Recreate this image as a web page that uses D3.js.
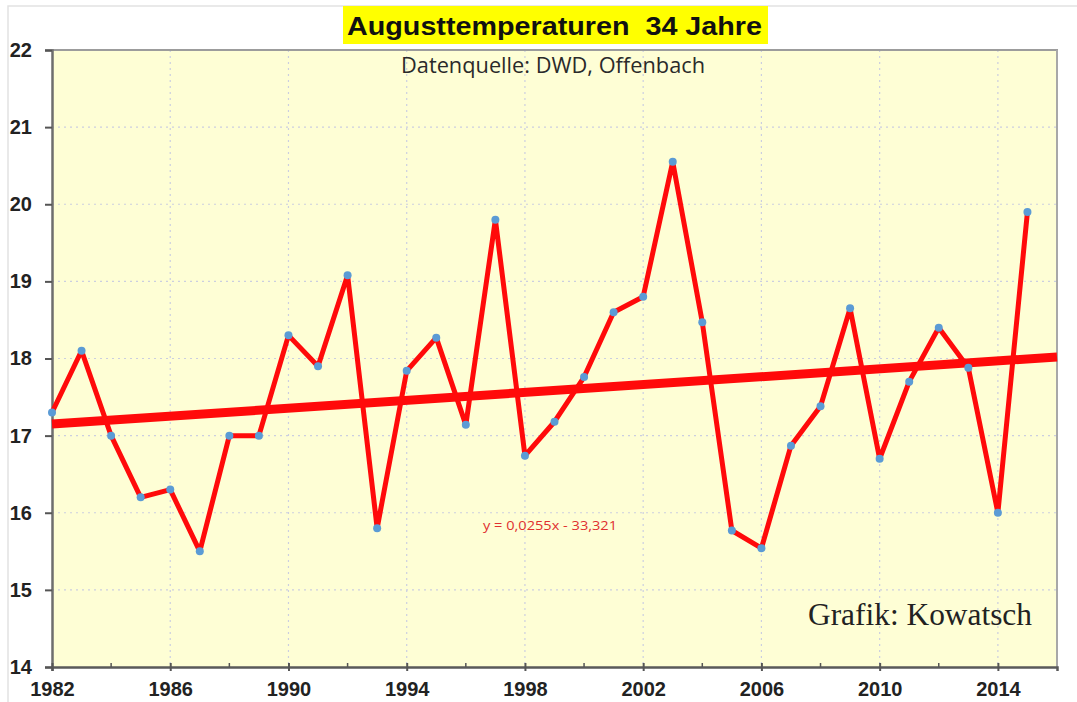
<!DOCTYPE html>
<html>
<head>
<meta charset="utf-8">
<script src="https://cdn.jsdelivr.net/npm/d3@7"></script>
<style>
  html, body { margin: 0; padding: 0; background: #ffffff; }
  svg { display: block; }
</style>
</head>
<body>
<svg id="chart" width="1077" height="702"></svg>
<script>
// ---- data ----
const years = [1982,1983,1984,1985,1986,1987,1988,1989,1990,1991,1992,1993,1994,1995,1996,1997,1998,1999,2000,2001,2002,2003,2004,2005,2006,2007,2008,2009,2010,2011,2012,2013,2014,2015];
const temps = [17.3,18.1,17.0,16.2,16.3,15.5,17.0,17.0,18.3,17.9,19.08,15.8,17.84,18.27,17.14,19.8,16.74,17.18,17.76,18.6,18.8,20.55,18.47,15.77,15.54,16.87,17.38,18.65,16.7,17.7,18.4,17.88,16.0,19.9];
const trendYears = [1982, 2016];
const trendValues = [17.15, 18.02];
const xTickValues = [1982,1986,1990,1994,1998,2002,2006,2010,2014];
const xMinorTicks = [1984,1988,1992,1996,2000,2004,2008,2012];
const yTickValues = [14,15,16,17,18,19,20,21,22];
const titleText = "Augusttemperaturen  34 Jahre";
const subtitleText = "Datenquelle: DWD, Offenbach";
const equationText = "y = 0,0255x - 33,321";
const creditText = "Grafik: Kowatsch";

// ---- layout ----
const svg = d3.select("#chart");
const L = 52, R = 1057, T = 50, B = 667;
const x = d3.scaleLinear().domain([1982, 2016]).range([L, R]);
const y = d3.scaleLinear().domain([14, 22]).range([B, T]);

// faint outer frame
svg.append("rect").attr("x", 8).attr("y", 6).attr("width", 1080).attr("height", 720)
  .attr("fill", "none").attr("stroke", "#e2e2e2").attr("stroke-width", 1.5);

// plot background
svg.append("rect").attr("x", L).attr("y", T).attr("width", R - L).attr("height", B - T)
  .attr("fill", "#fefed5");

// gridlines
const grid = svg.append("g");
grid.selectAll("line.h").data(yTickValues.slice(1, -1)).join("line")
  .attr("x1", L).attr("x2", R).attr("y1", d => y(d)).attr("y2", d => y(d))
  .attr("stroke", "#cbcee0").attr("stroke-width", 1.2).attr("stroke-dasharray", "2,4");
grid.selectAll("line.v").data(xTickValues.slice(1)).join("line")
  .attr("x1", d => x(d)).attr("x2", d => x(d)).attr("y1", T).attr("y2", B)
  .attr("stroke", "#cbcee0").attr("stroke-width", 1.2).attr("stroke-dasharray", "2,4");

// plot borders (top/right)
svg.append("line").attr("x1", L).attr("x2", R + 1).attr("y1", T).attr("y2", T)
  .attr("stroke", "#9c9c9c").attr("stroke-width", 2);
svg.append("line").attr("x1", R).attr("x2", R).attr("y1", T).attr("y2", B)
  .attr("stroke", "#a8a8a8").attr("stroke-width", 2);

// axes
const yAxis = d3.axisLeft(y).tickValues(yTickValues).tickSize(7).tickPadding(13).tickFormat(d3.format("d"));
const gy = svg.append("g").attr("transform", `translate(${L},0)`).call(yAxis);
gy.select(".domain").attr("stroke", "#6e6e6e").attr("stroke-width", 2.5);
gy.selectAll(".tick line").attr("stroke", "#555").attr("stroke-width", 2);
gy.selectAll(".tick text").attr("font-family", "'Liberation Sans', Arial, sans-serif")
  .attr("font-size", 20).attr("font-weight", "bold").attr("fill", "#222");

const xAxis = d3.axisBottom(x).tickValues(xTickValues).tickSize(4).tickPadding(11).tickFormat(d3.format("d"));
const gx = svg.append("g").attr("transform", `translate(0,${B})`).call(xAxis);
gx.select(".domain").attr("stroke", "#5a5a5a").attr("stroke-width", 2.5);
gx.selectAll(".tick line").attr("stroke", "#555").attr("stroke-width", 2).attr("y1", -4);
gx.selectAll(".tick text").attr("font-family", "'Liberation Sans', Arial, sans-serif")
  .attr("font-size", 20).attr("font-weight", "bold").attr("fill", "#222");
gx.selectAll("line.minor").data(xMinorTicks).join("line")
  .attr("class", "minor").attr("x1", d => x(d)).attr("x2", d => x(d)).attr("y1", -4).attr("y2", 0)
  .attr("stroke", "#555").attr("stroke-width", 1.5);

// data line
const pts = years.map((yr, i) => [yr, temps[i]]);
const lineGen = d3.line().x(d => x(d[0])).y(d => y(d[1]));
svg.append("path").datum(pts).attr("d", lineGen)
  .attr("fill", "none").attr("stroke", "#ff0a0a").attr("stroke-width", 5).attr("stroke-linejoin", "round");

// trend line
const trendPts = trendYears.map((yr, i) => [yr, trendValues[i]]);
svg.append("path").datum(trendPts).attr("d", lineGen)
  .attr("fill", "none").attr("stroke", "#ff0a0a").attr("stroke-width", 9);

// markers
svg.selectAll("circle.pt").data(pts).join("circle").attr("class", "pt")
  .attr("cx", d => x(d[0])).attr("cy", d => y(d[1])).attr("r", 4)
  .attr("fill", "#5b9bd5");

// title box
const titleG = svg.append("g");
titleG.append("rect").attr("x", 343).attr("y", 6).attr("width", 425).attr("height", 38).attr("fill", "#ffff00");
titleG.append("text").attr("x", 347).attr("y", 35).text(titleText)
  .attr("font-family", "'Liberation Sans', Arial, sans-serif").attr("font-weight", "bold")
  .attr("font-size", 25).attr("fill", "#111")
  .attr("textLength", 415).attr("lengthAdjust", "spacingAndGlyphs")
  .style("white-space", "pre");

// subtitle
svg.append("text").attr("x", 401).attr("y", 73).text(subtitleText)
  .attr("font-family", "'Open Sans', 'Noto Sans', sans-serif").attr("font-size", 21)
  .attr("fill", "#2a2a2a").attr("textLength", 304).attr("lengthAdjust", "spacingAndGlyphs");

// equation
svg.append("text").attr("x", 483).attr("y", 530).text(equationText)
  .attr("font-family", "'Open Sans', 'Noto Sans', sans-serif").attr("font-size", 12)
  .attr("fill", "#e03030").attr("textLength", 134).attr("lengthAdjust", "spacingAndGlyphs");

// credit
svg.append("text").attr("x", 808).attr("y", 625).text(creditText)
  .attr("font-family", "'Liberation Serif', 'Times New Roman', serif").attr("font-size", 31)
  .attr("fill", "#222").attr("textLength", 224).attr("lengthAdjust", "spacingAndGlyphs");
</script>
</body>
</html>
